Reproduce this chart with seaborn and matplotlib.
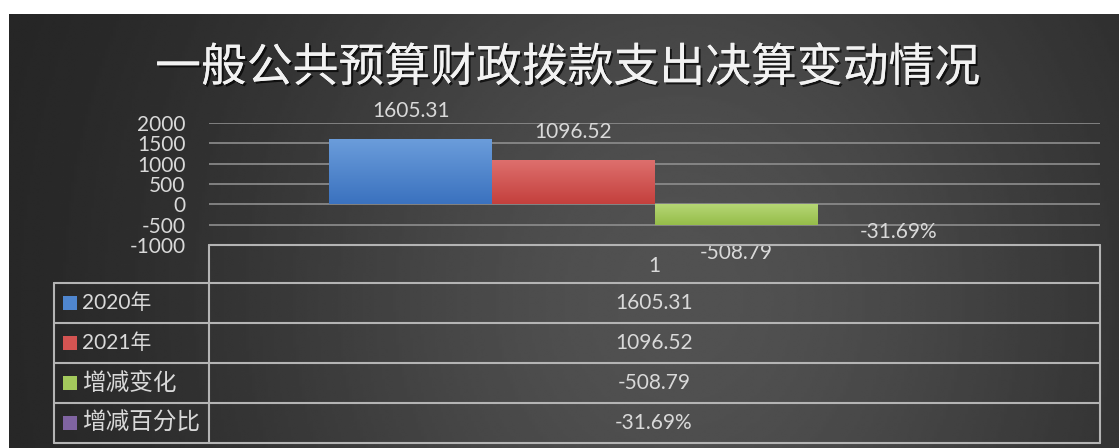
import numpy as np
import pandas as pd
import seaborn as sns
import matplotlib.pyplot as plt
import matplotlib.patheffects as pe
from matplotlib.colors import LinearSegmentedColormap

title = '一般公共预算财政拨款支出决算变动情况'
category = ['1']
series = ['2020年', '2021年', '增减变化', '增减百分比']
values = [1605.31, 1096.52, -508.79, -0.3169]
value_labels = ['1605.31', '1096.52', '-508.79', '-31.69%']
colors = ['#4f86cf', '#d45452', '#a3c95c', '#8064a2']
grad_top = ['#6b9ddb', '#de706e', '#b5d674', '#9580b5']
grad_bot = ['#3b72bf', '#c4403d', '#96bd4a', '#705893']
yticks = [-1000, -500, 0, 500, 1000, 1500, 2000]

W, H = 1119, 448
txt = '#d9d9d9'
line_c = '#b4b4b4'

sns.set_theme(style='white')
plt.rcParams['font.family'] = ['Lato', 'Noto Sans CJK SC', 'DejaVu Sans']

fig = plt.figure(figsize=(W / 100, H / 100), dpi=100, facecolor='white')

# dark gradient background
bg = fig.add_axes([9 / W, 0, (W - 9) / W, (H - 14) / H], zorder=-10)
xx, yy = np.meshgrid(np.linspace(9, W, 400), np.linspace(14, H, 200))
g = np.exp(-((xx - 680) / 470) ** 2 - ((yy - 300) / 520) ** 2)
bg.imshow(0.13 + 0.19 * g, cmap='gray', vmin=0, vmax=1, aspect='auto',
          extent=(9, W, H, 14), interpolation='bilinear')
bg.set_axis_off()

fig.text(568 / W, 1 - 68 / H, title, ha='center', va='center', color='#f2f2f2',
         fontsize=33, family=['Noto Sans CJK SC'],
         path_effects=[pe.withSimplePatchShadow(offset=(1.5, -1.5), shadow_rgbFace='black', alpha=0.7),
                       pe.Normal()])

# chart area
ax = fig.add_axes([209 / W, 1 - 245 / H, 891 / W, 122 / H])
ax.set_facecolor('none')
df = pd.DataFrame({'cat': category * len(series), 'series': series, 'value': values})
sns.barplot(data=df, x='cat', y='value', hue='series', hue_order=series,
            palette=colors, saturation=1, width=0.73, linewidth=0,
            legend=False, ax=ax, zorder=3)

for i, cont in enumerate(ax.containers):
    for p in cont.patches:
        x0, y0 = p.get_x(), p.get_y()
        w, h = p.get_width(), p.get_height()
        cmap = LinearSegmentedColormap.from_list('b', [grad_bot[i], grad_top[i]])
        grad = np.linspace(0, 1, 50).reshape(-1, 1)
        yb, yt = min(y0, y0 + h), max(y0, y0 + h)
        im = ax.imshow(grad, cmap=cmap, aspect='auto', origin='lower',
                       extent=(x0, x0 + w, yb, yt), zorder=4)
        im.set_clip_path(p)
    ax.bar_label(cont, labels=[value_labels[i]], padding=13, color=txt, fontsize=15)

ax.set_xlim(-0.5, 0.5)
ax.set_ylim(-1000, 2000)
ax.set_yticks(yticks)
ax.set_yticklabels([str(v) for v in yticks])
for v in yticks[1:]:
    ax.axhline(v, color='#8e8e8e', lw=1.2, zorder=1)
for s in ax.spines.values():
    s.set_visible(False)
ax.tick_params(axis='y', length=0, pad=17, labelsize=15, labelcolor=txt)
ax.tick_params(axis='x', length=0, pad=8, labelsize=15, labelcolor=txt)
ax.set_xlabel('')
ax.set_ylabel('')

# data table
tb = fig.add_axes([0, 0, 1, 1], zorder=5)
tb.set_xlim(0, W)
tb.set_ylim(H, 0)
tb.set_axis_off()
rows = [245, 283, 323, 363, 403, 443]
tb.plot([209, 1100], [rows[0], rows[0]], color=line_c, lw=1.5)
for r in rows[1:]:
    tb.plot([54, 1100], [r, r], color=line_c, lw=1.5)
tb.plot([209, 209], [rows[0], rows[-1]], color=line_c, lw=1.5)
tb.plot([1100, 1100], [rows[0], rows[-1]], color=line_c, lw=1.5)
tb.plot([54, 54], [rows[1], rows[-1]], color=line_c, lw=1.5)
for i, name in enumerate(series):
    cy = (rows[i + 1] + rows[i + 2]) / 2
    # the CJK-only names render a bit larger in the original
    fs = 15 if any(c.isdigit() for c in name) else 17
    tb.add_patch(plt.Rectangle((63, cy - 7), 14, 14, color=colors[i], lw=0))
    tb.text(82, cy, name, ha='left', va='center', color=txt, fontsize=fs)
    tb.text(654, cy, value_labels[i], ha='center', va='center', color=txt, fontsize=15)

fig.savefig('out.png', dpi=100, facecolor='white')
